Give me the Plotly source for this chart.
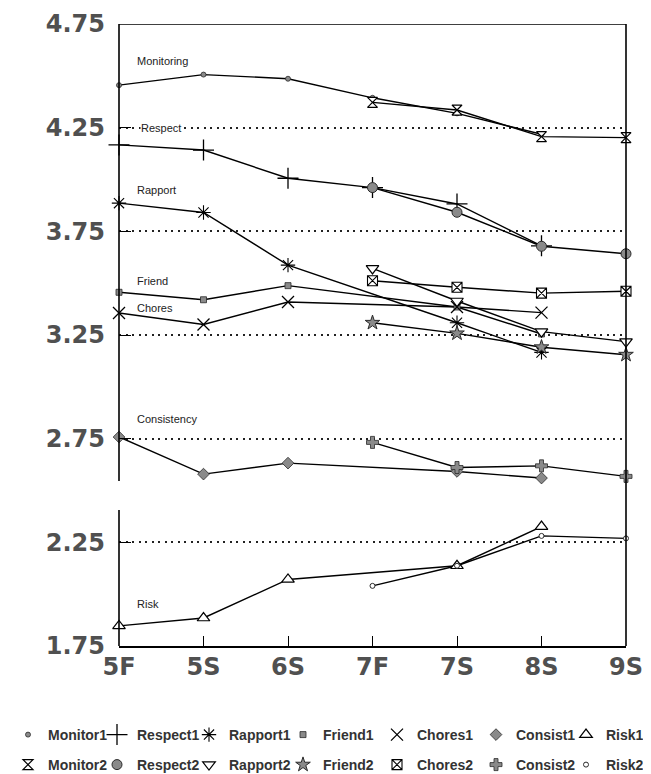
import plotly.graph_objects as go

# ---------------- data ----------------
waves = ["5F", "5S", "6S", "7F", "7S", "8S", "9S"]

monitor1 = [4.455, 4.506, 4.486, 4.394, 4.319, 4.218, None]
monitor2 = [None, None, None, 4.372, 4.335, 4.207, 4.202]
respect1 = [4.167, 4.142, 4.006, 3.961, 3.882, 3.680, None]
respect2 = [None, None, None, 3.961, 3.842, 3.678, 3.642]
rapport1 = [3.886, 3.841, 3.587, None, 3.309, 3.166, None]
rapport2 = [None, None, None, 3.571, 3.414, 3.266, 3.218]
friend1 = [3.456, 3.420, 3.488, None, 3.385, 3.255, None]
friend2 = [None, None, None, 3.309, 3.258, 3.191, 3.155]
chores1 = [3.356, 3.301, 3.409, None, 3.385, 3.358, None]
chores2 = [None, None, None, 3.512, 3.480, 3.452, 3.461]
consist1 = [2.758, 2.579, 2.632, None, 2.592, 2.560, None]
consist2 = [None, None, None, 2.732, 2.611, 2.619, 2.568]
risk1 = [1.847, 1.885, 2.071, None, 2.137, 2.326, None]
risk2 = [None, None, None, 2.040, 2.137, 2.281, 2.269]

y_ticks = [1.75, 2.25, 2.75, 3.25, 3.75, 4.25, 4.75]
y_tick_text = ["1.75", "2.25", "2.75", "3.25", "3.75", "4.25", "4.75"]

group_labels = ["Monitoring", "Respect", "Rapport", "Friend", "Chores", "Consistency", "Risk"]
group_label_y = [4.570, 4.25, 3.950, 3.512, 3.381, 2.846, 1.955]

# ---------------- styles ----------------
GRAY = "#8a8a8a"
DARK = "#2a2a2a"

series1 = [
    ("Monitor1", monitor1, dict(symbol="circle", size=5, color=GRAY, line=dict(color=DARK, width=0.8))),
    ("Respect1", respect1, dict(symbol="cross-thin-open", size=15, color="black", line=dict(color="black", width=1.3))),
    ("Rapport1", rapport1, dict(symbol="asterisk-open", size=12, color="black", line=dict(color="black", width=1.1))),
    ("Friend1", friend1, dict(symbol="square", size=6, color=GRAY, line=dict(color=DARK, width=0.8))),
    ("Chores1", chores1, dict(symbol="x-thin-open", size=12, color="black", line=dict(color="black", width=1.3))),
    ("Consist1", consist1, dict(symbol="diamond", size=9, color=GRAY, line=dict(color=DARK, width=0.8))),
    ("Risk1", risk1, dict(symbol="triangle-up", size=11, color="white", line=dict(color="black", width=1.2))),
]
series2 = [
    ("Monitor2", monitor2, dict(symbol="hourglass", size=10, color="white", line=dict(color="black", width=1.2))),
    ("Respect2", respect2, dict(symbol="circle", size=10, color=GRAY, line=dict(color=DARK, width=1))),
    ("Rapport2", rapport2, dict(symbol="triangle-down", size=11, color="white", line=dict(color="black", width=1.2))),
    ("Friend2", friend2, dict(symbol="star", size=11, color=GRAY, line=dict(color=DARK, width=1))),
    ("Chores2", chores2, dict(symbol="square-x", size=10, color="white", line=dict(color="black", width=1.1))),
    ("Consist2", consist2, dict(symbol="cross", size=10, color=GRAY, line=dict(color=DARK, width=0.8))),
    ("Risk2", risk2, dict(symbol="circle", size=5, color="white", line=dict(color=DARK, width=1))),
]

# legend column left edges (px) and row centres (px)
legend_col_x = [0, 89, 181, 275, 369, 468, 558]
legend_row_y = [727, 757]

fig = go.Figure()

# connecting lines (no legend entry)
for group in (series1, series2):
    for name, vals, marker in group:
        fig.add_trace(go.Scatter(
            x=waves, y=vals, name=name, mode="lines", connectgaps=True,
            line=dict(color="black", width=1.4), showlegend=False, hoverinfo="skip",
        ))

# markers (with legend entries)
legend_layouts = {}
for row, group in enumerate((series1, series2)):
    for col, (name, vals, marker) in enumerate(group):
        idx = row * 7 + col + 1
        lid = "legend" if idx == 1 else f"legend{idx}"
        fig.add_trace(go.Scatter(
            x=waves, y=vals, name=name, mode="markers",
            cliponaxis=False, marker=marker, legend=lid,
        ))
        legend_layouts[lid] = dict(
            orientation="h", xref="container", yref="container",
            xanchor="left", yanchor="middle",
            x=legend_col_x[col] / 651, y=(774 - legend_row_y[row]) / 774,
            itemwidth=30,
            font=dict(family="Liberation Sans, Arial", size=14, color="#333", weight="bold"),
            bgcolor="rgba(0,0,0,0)", borderwidth=0,
        )

# group labels
for txt, yv in zip(group_labels, group_label_y):
    is_resp = txt == "Respect"
    fig.add_annotation(
        x=0.244 if is_resp else 0.207, y=yv, xref="x", yref="y",
        text=txt, showarrow=False, xanchor="left", yanchor="middle",
        font=dict(family="Liberation Sans, Arial", size=11, color="#222"),
        bgcolor="white" if is_resp else None, borderpad=0,
    )

# frame: top, right, broken left axis
frame = dict(type="line", line=dict(color="black", width=1.6), layer="above")
fig.add_shape(x0=0, x1=1, xref="paper", y0=4.75, y1=4.75, yref="y", **frame)
fig.add_shape(x0=1, x1=1, xref="paper", y0=1.75, y1=4.75, yref="y", **frame)
fig.add_shape(x0=0, x1=0, xref="paper", y0=2.546, y1=4.75, yref="y", **frame)
fig.add_shape(x0=0, x1=0, xref="paper", y0=1.75, y1=2.406, yref="y", **frame)

tick_font = dict(family="DejaVu Sans, Liberation Sans", size=24, color="#505050", weight="bold")

fig.update_layout(
    width=651, height=774, template="none",
    paper_bgcolor="white", plot_bgcolor="white",
    margin=dict(l=111, r=33, t=16, b=136, pad=0),
    showlegend=True,
    xaxis=dict(
        type="category", range=[0, 6], showgrid=False, zeroline=False,
        showline=True, linecolor="black", linewidth=1.6,
        ticks="inside", ticklen=10, tickwidth=1.3, tickcolor="black",
        ticklabelstandoff=-2, automargin=False, tickfont=tick_font,
    ),
    yaxis=dict(
        range=[1.75, 4.75], tickvals=y_ticks, ticktext=y_tick_text,
        showline=False, zeroline=False,
        showgrid=True, gridcolor="#222", gridwidth=1.5, griddash="2px,4.5px",
        ticks="inside", ticklen=12, tickwidth=1.3, tickcolor="black",
        ticklabelstandoff=13, automargin=False, tickfont=tick_font,
    ),
    **legend_layouts,
)

fig.write_html("out.html")
